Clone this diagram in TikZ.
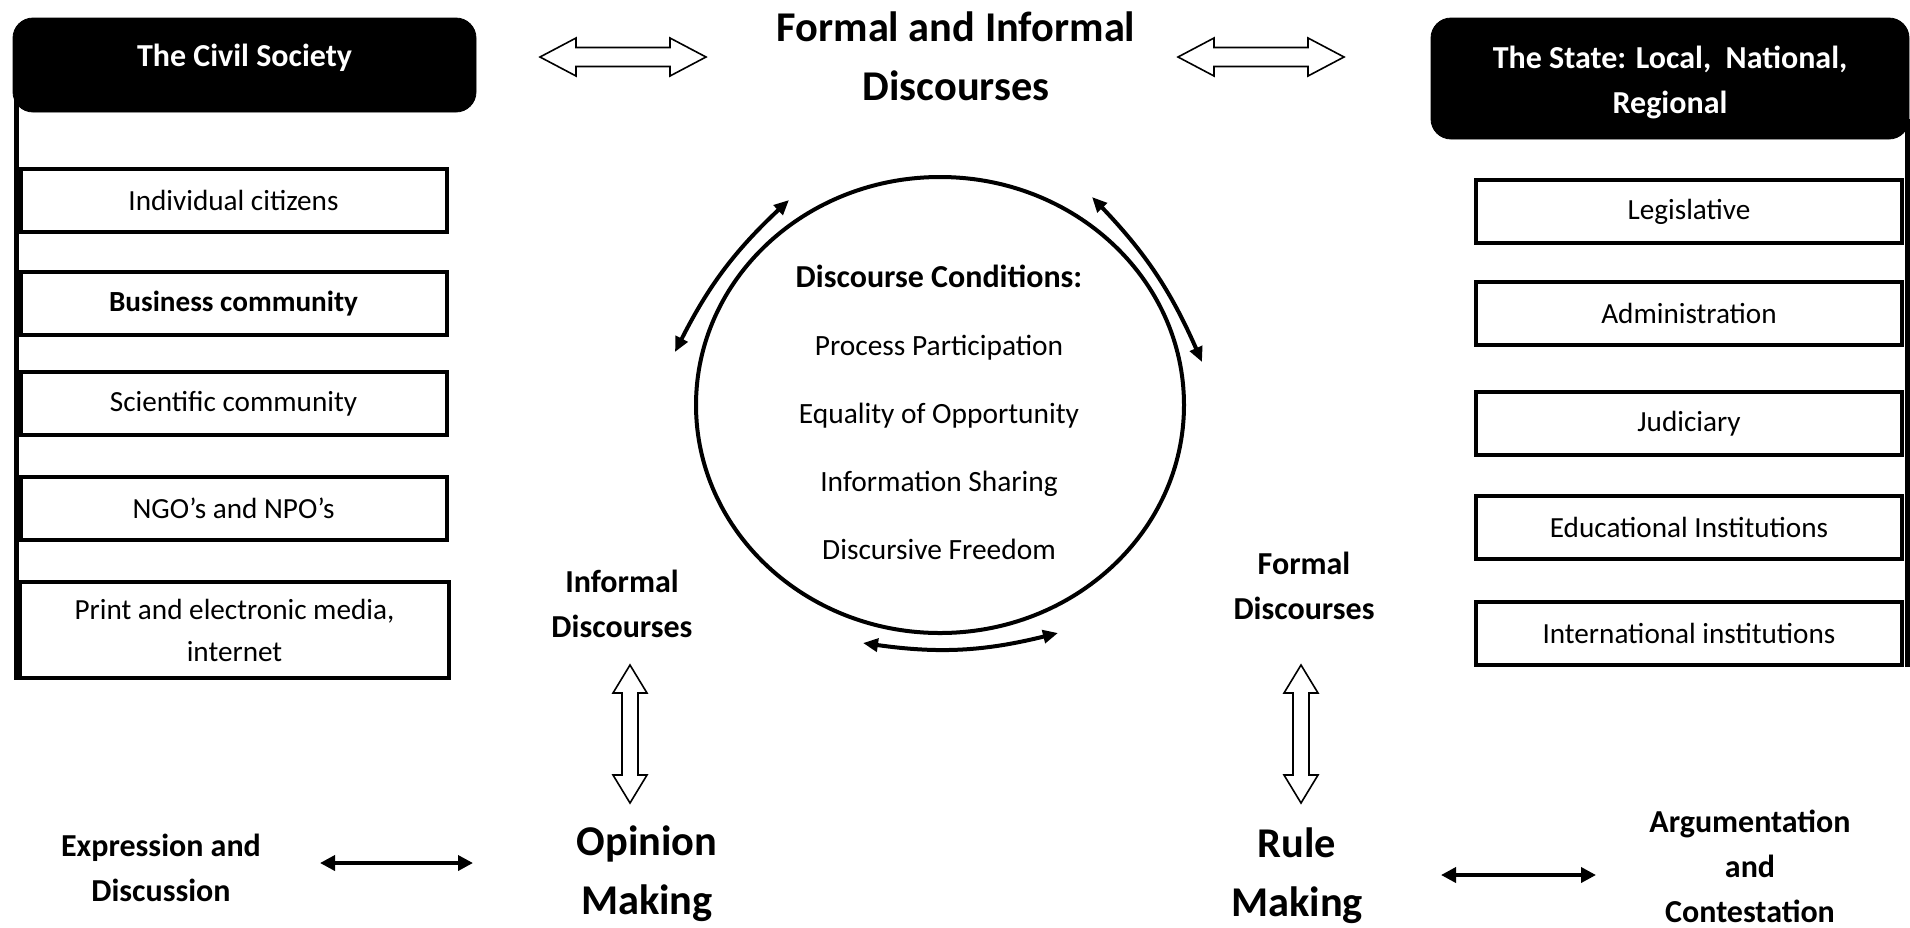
\documentclass[tikz,border=0pt]{standalone}
\usepackage{fontspec}
\setmainfont{Carlito}
\usetikzlibrary{arrows.meta,shapes.geometric,calc}
\begin{document}
\begin{tikzpicture}[x=0.5pt,y=-0.5pt,
  hdr/.style={fill=black, draw=black, rounded corners=10pt, text=white,
    font=\fontsize{16}{22.5}\selectfont\bfseries, align=center, inner sep=0pt},
  hdrtext/.style={text=white, font=\fontsize{16}{22.5}\selectfont\bfseries, align=center, inner sep=0pt},
  item/.style={draw=black, line width=2pt, fill=white,
    font=\fontsize{14.6}{21}\selectfont, align=center,
    minimum width=213pt, minimum height=31.5pt, inner sep=0pt},
  lbl/.style={font=\fontsize{16}{22.5}\selectfont\bfseries, align=center, inner sep=0pt},
  big/.style={font=\fontsize{21.2}{29.5}\selectfont\bfseries, align=center, inner sep=0pt},
  spine/.style={line width=2.2pt},
  hollow/.style={draw=black, line width=0.8pt, fill=white, line join=miter},
  curved/.style={line width=2pt,
    {Triangle[length=7.5pt,width=6.5pt]}-{Triangle[length=7.5pt,width=6.5pt]}},
  straight/.style={line width=1.8pt,
    {Triangle[length=7.5pt,width=7.5pt]}-{Triangle[length=7.5pt,width=7.5pt]}},
  pics/harrow/.style={code={\draw[hollow] (0,0) -- ++(36,-19) -- ++(0,9.5) -- ++(94,0)
    -- ++(0,-9.5) -- ++(36,19) -- ++(-36,19) -- ++(0,-9.5) -- ++(-94,0) -- ++(0,9.5) -- cycle;}},
  pics/varrow/.style={code={\draw[hollow] (0,0) -- ++(17,28) -- ++(-9,0) -- ++(0,82)
    -- ++(9,0) -- ++(-17,28) -- ++(-17,-28) -- ++(9,0) -- ++(0,-82) -- ++(-9,0) -- cycle;}}
]
\useasboundingbox (0,0) rectangle (1910,927);

% headers
\node[hdr, minimum width=231.5pt, minimum height=47pt, text depth=10pt] (civil) at (244.5,65) {The Civil Society};
\node[hdr, minimum width=239pt, minimum height=60.5pt] (state) at (1670,78.5) {};
\node[hdrtext] (statetxt) at (1670,82) {The State: Local,\ \ National,\\Regional};

% left column
\node[item] (ind) at (233.5,200.5) {Individual citizens};
\node[item, font=\fontsize{14.6}{21}\selectfont\bfseries] (bus) at (233.5,303.5) {Business community};
\node[item] (sci) at (233.5,403.5) {Scientific community};
\node[item] (ngo) at (233.5,508.5) {NGO’s and NPO’s};
\node[item, minimum width=214.5pt, minimum height=48pt] (print) at (234.5,630) {Print and electronic media,\\internet};

% right column
\node[item] (leg) at (1689,211.5) {Legislative};
\node[item] (adm) at (1689,313.5) {Administration};
\node[item] (jud) at (1689,423.5) {Judiciary};
\node[item] (edu) at (1689,527.5) {Educational Institutions};
\node[item] (intl) at (1689,633) {International institutions};

% spines
\draw[spine] ([xshift=2pt,yshift=10pt]civil.south west) -- ([xshift=2pt]civil.south west |- print.south);
\draw[spine] ([xshift=-1pt,yshift=10pt]state.south east) -- ([xshift=-1pt]state.south east |- intl.south);

% title
\node[big] (title) at (956,56) {Formal and Informal\\Discourses};
\pic at (540,57) {harrow};
\pic at (1178,57) {harrow};

% circle
\node[ellipse, draw, line width=2pt, minimum width=244pt, minimum height=228pt, inner sep=0pt] (circ) at (940,405) {};
\node[align=center, font=\fontsize{14.7}{34}\selectfont, inner sep=0pt] (cond) at (939,412)
  {{\fontsize{16}{34}\selectfont\bfseries Discourse Conditions:}\\Process Participation\\Equality of Opportunity\\Information Sharing\\Discursive Freedom};

\coordinate (ulA) at (789,200); \coordinate (ulB) at (675,352);
\coordinate (urA) at (1092,197); \coordinate (urB) at (1202,362);
\coordinate (bA) at (863,643); \coordinate (bB) at (1058,633);
\draw[curved] (ulA) to[bend right=10] (ulB);
\draw[curved] (urA) to[bend left=10] (urB);
\draw[curved] (bA) to[bend right=11] (bB);

% lower labels
\node[lbl] (informal) at (622,604) {Informal\\Discourses};
\node[lbl] (formal) at (1304,586) {Formal\\Discourses};
\pic at (630,665) {varrow};
\pic at (1301,665) {varrow};
\node[big] (opinion) at (647,874) {Opinion\\Making};
\node[big] (rule) at (1297,876) {Rule\\Making};
\node[lbl] (expr) at (161,868) {Expression and\\Discussion};
\node[lbl] (argu) at (1750,866) {Argumentation\\and\\Contestation};

\coordinate (eA) at (320,863); \coordinate (eB) at (473,863);
\coordinate (rA) at (1441,875); \coordinate (rB) at (1596,875);
\draw[straight] (eA) -- (eB);
\draw[straight] (rA) -- (rB);
\end{tikzpicture}
\end{document}
